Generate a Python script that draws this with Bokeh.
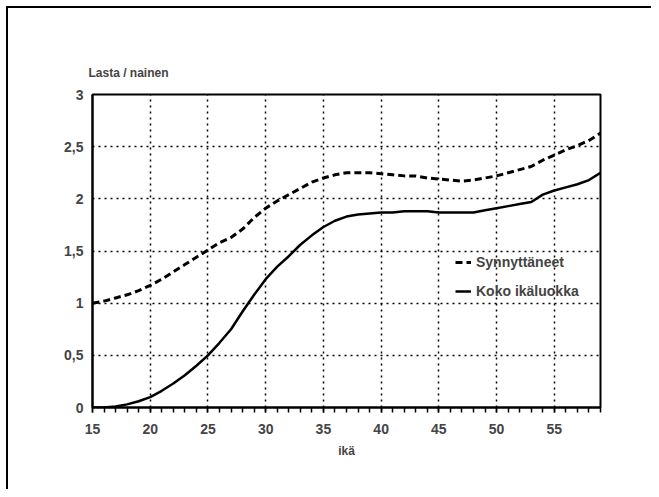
from bokeh.plotting import figure
from bokeh.models import Range1d, SingleIntervalTicker, Legend, LegendItem
from bokeh.embed import file_html
from bokeh.resources import INLINE

ages = list(range(15, 60))
synnyttaneet = [1.00, 1.02, 1.05, 1.08, 1.12, 1.17, 1.23, 1.30, 1.37, 1.44,
                1.51, 1.58, 1.63, 1.71, 1.82, 1.91, 1.98, 2.04, 2.10, 2.16,
                2.20, 2.23, 2.25, 2.25, 2.25, 2.24, 2.23, 2.22, 2.22, 2.20,
                2.19, 2.18, 2.17, 2.18, 2.20, 2.22, 2.25, 2.28, 2.31, 2.37,
                2.42, 2.47, 2.51, 2.56, 2.63]
koko_ikaluokka = [0.00, 0.00, 0.01, 0.03, 0.06, 0.10, 0.16, 0.23, 0.31, 0.40,
                  0.50, 0.62, 0.75, 0.92, 1.08, 1.23, 1.35, 1.45, 1.56, 1.65,
                  1.73, 1.79, 1.83, 1.85, 1.86, 1.87, 1.87, 1.88, 1.88, 1.88,
                  1.87, 1.87, 1.87, 1.87, 1.89, 1.91, 1.93, 1.95, 1.97, 2.04,
                  2.08, 2.11, 2.14, 2.18, 2.25]
series_names = ["Synnyttäneet", "Koko ikäluokka"]
y_tick_labels = {0: "0", 0.5: "0,5", 1: "1", 1.5: "1,5", 2: "2", 2.5: "2,5", 3: "3"}

FONT = "Liberation Sans"

p = figure(width=645, height=483, output_backend="svg", toolbar_location=None,
           x_range=Range1d(15, 59), y_range=Range1d(0, 3),
           min_border_left=84, min_border_right=53, min_border_top=86,
           min_border_bottom=84, title="Lasta / nainen")
p.styles = {"border-top": "2px solid black", "border-left": "2px solid black",
            "margin-top": "6px", "margin-left": "6px"}

p.title.text_font = FONT
p.title.text_font_size = "12px"
p.title.text_font_style = "bold"
p.title.align = "left"
p.title.offset = -4
p.title.standoff = 29

p.outline_line_color = "black"
p.outline_line_width = 2
p.background_fill_color = "white"
p.border_fill_color = "white"

# x axis
xa = p.xaxis[0]
xa.ticker = SingleIntervalTicker(interval=5, num_minor_ticks=5)
xa.axis_line_width = 2
xa.major_tick_out = 5
xa.major_tick_in = 0
xa.minor_tick_out = 5
xa.minor_tick_in = 0
xa.major_tick_line_width = 1.5
xa.minor_tick_line_width = 1.5
xa.major_label_text_font = FONT
xa.major_label_text_font_size = "14px"
xa.major_label_text_font_style = "bold"
xa.major_label_standoff = 11
xa.axis_label = "ikä"
xa.axis_label_text_font = FONT
xa.axis_label_text_font_size = "12px"
xa.axis_label_text_font_style = "bold"
xa.axis_label_standoff = 7

# y axis
ya = p.yaxis[0]
ya.ticker = SingleIntervalTicker(interval=0.5, num_minor_ticks=0)
ya.axis_line_width = 2
ya.major_tick_out = 0
ya.major_tick_in = 0
ya.minor_tick_out = 0
ya.minor_tick_in = 0
ya.major_label_overrides = y_tick_labels
ya.major_label_text_font = FONT
ya.major_label_text_font_size = "14px"
ya.major_label_text_font_style = "bold"
ya.major_label_standoff = 9

for g in (p.xgrid[0], p.ygrid[0]):
    g.grid_line_color = "black"
    g.grid_line_dash = "2 4"
    g.grid_line_width = 1.5
p.xgrid[0].ticker = SingleIntervalTicker(interval=5)
p.ygrid[0].ticker = SingleIntervalTicker(interval=0.5)

r1 = p.line(ages, synnyttaneet, line_color="black", line_width=3, line_dash="7 4")
r2 = p.line(ages, koko_ikaluokka, line_color="black", line_width=2.5)

legend = Legend(items=[LegendItem(label=series_names[0], renderers=[r1]),
                       LegendItem(label=series_names[1], renderers=[r2])],
                location=(363, 106), padding=0, margin=0, spacing=9,
                glyph_width=16, glyph_height=20, label_height=20,
                label_standoff=5, border_line_color=None,
                background_fill_alpha=0,
                label_text_font=FONT, label_text_font_size="14px",
                label_text_font_style="bold")
p.add_layout(legend)

open("out.html", "w").write(file_html(p, INLINE))
